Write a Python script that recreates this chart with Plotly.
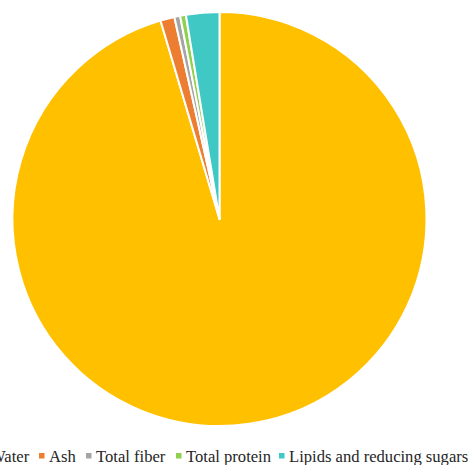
import plotly.graph_objects as go

labels = ["Water", "Ash", "Total fiber", "Total protein", "Lipids and reducing sugars"]
values = [95.4, 1.1, 0.45, 0.45, 2.6]
colors = ["#FFC000", "#ED7D31", "#A5A5A5", "#8FD14F", "#3FC8C4"]

W, H = 468, 465
FONT = "Liberation Serif, Times New Roman, serif"

fig = go.Figure(go.Pie(
    labels=labels, values=values, sort=False, direction="clockwise", rotation=0,
    marker=dict(colors=colors, line=dict(color="white", width=2)),
    textinfo="none", hoverinfo="label+percent", showlegend=False,
    domain=dict(x=[12.5 / W, 426.5 / W], y=[(H - 426) / H, (H - 12) / H]),
))

# legend row (manual, to reproduce the compact Office-style legend)
item_left_px = [-20, 39, 86, 176, 279]   # left edge of each legend square, in px
sq = 5.5
sq_top, sq_bot = 453, 458.5
text_y = 456.5
for lab, col, xl in zip(labels, colors, item_left_px):
    fig.add_shape(type="rect", xref="paper", yref="paper",
                  x0=xl / W, x1=(xl + sq) / W,
                  y0=(H - sq_bot) / H, y1=(H - sq_top) / H,
                  fillcolor=col, line=dict(width=0))
    fig.add_annotation(xref="paper", yref="paper", x=(xl + sq + 4.5) / W, y=(H - text_y) / H,
                       xanchor="left", yanchor="middle", text=lab, showarrow=False,
                       borderpad=0, borderwidth=0,
                       font=dict(family=FONT, size=16.6, color="#262626"))

fig.update_layout(
    width=W, height=H, margin=dict(l=0, r=0, t=0, b=0),
    paper_bgcolor="white", plot_bgcolor="white",
    font=dict(family=FONT, size=16.6, color="#262626"),
)
fig.write_html("out.html")
